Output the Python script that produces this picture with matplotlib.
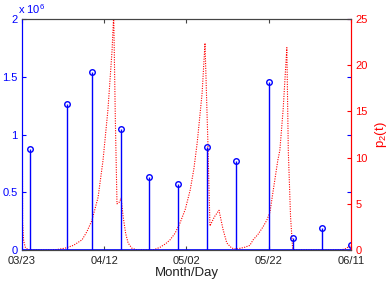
import matplotlib.pyplot as plt

plt.rcParams['font.family'] = ['Liberation Sans', 'DejaVu Sans']
plt.rcParams['mathtext.fontset'] = 'custom'
plt.rcParams['mathtext.rm'] = 'Liberation Sans'
plt.rcParams['mathtext.it'] = 'Liberation Sans'

# x axis: days since 03/23
tick_days = [0, 20, 40, 60, 80]
tick_labels = ['03/23', '04/12', '05/02', '05/22', '06/11']

# stems (left axis, units of 1e6)
case_days = [2, 11, 17, 24, 31, 38, 45, 52, 60, 66, 73, 80]
case_values = [0.872, 1.264, 1.54, 1.045, 0.629, 0.569, 0.894, 0.773, 1.457, 0.107, 0.193, 0.043]

# p2(t) curve (right axis)
p2_days = [0, 0.15, 0.4, 0.8, 1.5, 6.3, 8.5, 10.5, 12.5, 14.6, 15.8, 17.0, 18.5, 19.7, 20.9, 21.9, 22.3,
           22.7, 23.1, 23.7, 24.1, 24.6, 25.2, 25.8, 26.7, 28.0,
           31.9, 33.6, 35.0, 36.0, 37.2, 38.4, 39.7, 40.9, 41.8, 42.6, 43.8, 44.5, 45.2, 45.7,
           46.8, 47.9, 48.9, 49.8, 51.0, 52.2, 54.2, 55.4, 56.2, 57.4, 58.6, 59.5, 60.3, 61.0, 62.2,
           62.7, 63.5, 64.4, 64.75, 65.3, 65.8, 66.3, 77.3, 78.5, 80.0]
p2_values = [26, 3, 1, 0.3, 0, 0, 0.05, 0.2, 0.5, 1.1, 2.0, 3.2, 5.7, 9.7, 15.2, 21.6, 25.5,
             14, 5.0, 5.2, 5.6, 3.6, 1.8, 0.76, 0.2, 0,
             0, 0.3, 0.7, 1.1, 1.8, 2.9, 4.4, 6.5, 8.8, 11.6, 17.0, 22.4, 11.6, 2.6,
             3.6, 4.3, 2.2, 0.76, 0.2, 0.1, 0.3, 0.5, 1.1, 1.7, 2.5, 3.2, 4.1, 6.2, 9.7,
             10.8, 15.2, 21.9, 10.8, 3.6, 0.2, 0, 0, 0.1, 0.5]

fig = plt.figure(figsize=(3.9, 2.82), dpi=100)
ax1 = fig.add_axes([0.0564, 0.1135, 0.8436, 0.819])
ax2 = ax1.twinx()

ax2.plot(p2_days, p2_values, color='r', linestyle=(0, (1, 1.2)), linewidth=0.8)
ax2.set_ylim(0, 25)
ax2.set_yticks([0, 5, 10, 15, 20, 25])
ax2.tick_params(axis='y', colors='r', direction='in', length=3, labelsize=8, pad=3)
ax2.set_ylabel('p$_2$(t)', color='r', fontsize=9.5, labelpad=4)

ax1.set_zorder(ax2.get_zorder() + 1)
ax1.patch.set_visible(False)
markerline, stemlines, baseline = ax1.stem(case_days, case_values, linefmt='b-', markerfmt='bo', basefmt='b-')
markerline.set_markerfacecolor('none')
markerline.set_markersize(4)
markerline.set_markeredgewidth(1)
stemlines.set_linewidth(1)
baseline.set_linewidth(1.2)
baseline.set_xdata([0, 80])

ax1.set_xlim(0, 80)
ax1.set_ylim(0, 2)
ax1.set_xticks(tick_days)
ax1.set_xticklabels(tick_labels)
ax1.set_yticks([0, 0.5, 1, 1.5, 2])
ax1.set_yticklabels(['0', '0.5', '1', '1.5', '2'])
ax1.tick_params(axis='y', colors='b', direction='in', length=3, labelsize=8, pad=3, right=True)
ax1.tick_params(axis='x', color='#444444', labelcolor='#222222', direction='in', length=3,
                labelsize=8, pad=4, top=True)
ax1.set_xlabel('Month/Day', fontsize=9.5, color='#222222', labelpad=1)
ax1.text(-0.012, 1.015, 'x 10$^{6}$', transform=ax1.transAxes, color='b', fontsize=8,
         ha='left', va='bottom')

for ax in (ax1, ax2):
    ax.spines['left'].set_color('b')
    ax.spines['right'].set_color('r')
    ax.spines['top'].set_color('#444444')
    ax.spines['bottom'].set_color('#444444')
    for s in ax.spines.values():
        s.set_linewidth(0.8)

fig.savefig('out.png', dpi=100)
